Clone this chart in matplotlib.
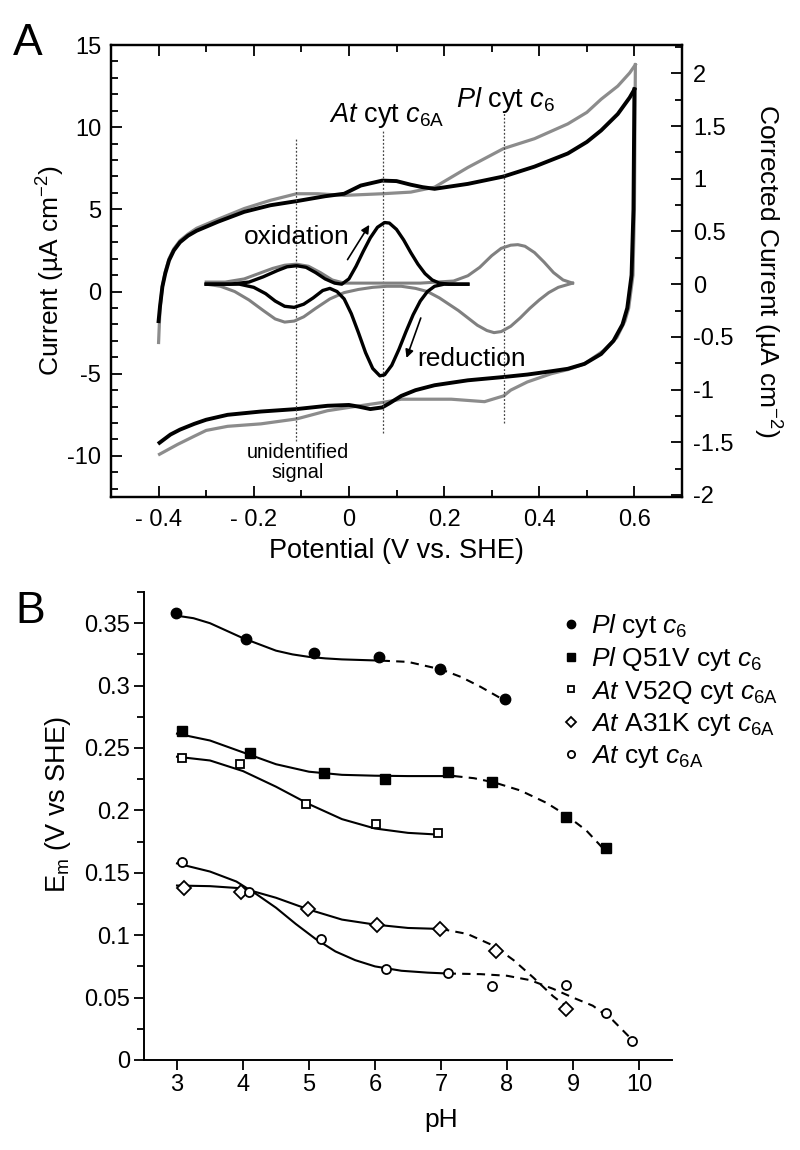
import matplotlib
matplotlib.use('Agg')
import matplotlib.pyplot as plt
from matplotlib.ticker import MultipleLocator, FuncFormatter

plt.rcParams['font.family'] = ['Liberation Sans', 'DejaVu Sans']
plt.rcParams['mathtext.fontset'] = 'custom'
plt.rcParams['mathtext.rm'] = 'Liberation Sans'
plt.rcParams['mathtext.it'] = 'Liberation Sans:italic'
plt.rcParams['mathtext.bf'] = 'Liberation Sans:bold'
plt.rcParams['axes.unicode_minus'] = False

# ---------------- panel A : cyclic voltammograms (left axis, uA cm-2) ----------------
# black = At cyt c6A, gray = Pl cyt c6 ; "up" = oxidative sweep, "dn" = reductive sweep
cv_black_up_v = [-0.400, -0.397, -0.392, -0.386, -0.378, -0.368, -0.355, -0.338, -0.320, -0.275,
                 -0.220, -0.165, -0.110, -0.050, -0.010, 0.025, 0.070, 0.100, 0.130, 0.155,
                 0.180, 0.250, 0.325, 0.390, 0.460, 0.500, 0.530, 0.565, 0.590, 0.600]
cv_black_up_i = [-1.8, -0.9, 0.3, 1.1, 1.9, 2.5, 3.0, 3.4, 3.7, 4.25,
                 4.85, 5.25, 5.5, 5.8, 5.95, 6.45, 6.75, 6.72, 6.5, 6.35,
                 6.25, 6.55, 7.0, 7.6, 8.4, 9.1, 9.8, 10.8, 11.8, 12.3]
cv_black_dn_v = [0.600, 0.598, 0.594, 0.585, 0.575, 0.556, 0.530, 0.495, 0.460, 0.425,
                 0.375, 0.325, 0.250, 0.180, 0.140, 0.110, 0.085, 0.070, 0.045, 0.020,
                 0.000, -0.045, -0.110, -0.185, -0.255, -0.300, -0.325, -0.355, -0.375, -0.398]
cv_black_dn_i = [12.3, 5.0, 1.0, -1.0, -2.0, -3.0, -3.8, -4.4, -4.7, -4.85,
                 -5.05, -5.2, -5.4, -5.7, -6.0, -6.35, -6.8, -7.05, -7.15, -7.0,
                 -6.9, -6.95, -7.15, -7.3, -7.5, -7.8, -8.05, -8.4, -8.7, -9.2]
cv_gray_up_v = [-0.400, -0.397, -0.392, -0.386, -0.378, -0.368, -0.355, -0.338, -0.320, -0.275,
                -0.220, -0.165, -0.110, -0.065, -0.010, 0.070, 0.130, 0.180, 0.250, 0.325,
                0.390, 0.460, 0.500, 0.530, 0.565, 0.590, 0.602]
cv_gray_up_i = [-3.1, -1.0, 0.3, 1.2, 2.0, 2.6, 3.1, 3.5, 3.85, 4.4,
                5.05, 5.55, 5.95, 5.95, 5.85, 5.95, 6.05, 6.35, 7.55, 8.7,
                9.3, 10.2, 10.9, 11.7, 12.5, 13.3, 13.8]
cv_gray_dn_v = [0.602, 0.600, 0.597, 0.588, 0.580, 0.563, 0.535, 0.495, 0.460, 0.425,
                0.375, 0.340, 0.325, 0.285, 0.215, 0.110, 0.070, 0.000, -0.045, -0.110,
                -0.185, -0.255, -0.300, -0.325, -0.360, -0.398]
cv_gray_dn_i = [13.8, 5.0, 1.0, -1.0, -1.8, -2.8, -3.6, -4.4, -4.75, -5.0,
                -5.5, -6.0, -6.35, -6.7, -6.55, -6.55, -6.75, -7.05, -7.25, -7.75,
                -8.05, -8.2, -8.45, -8.8, -9.3, -9.9]

# baseline-corrected signals (right axis)
cor_black_up_v = [-0.300, -0.250, -0.210, -0.180, -0.150, -0.130, -0.110, -0.090, -0.070, -0.050,
                  -0.030, -0.015, 0.000, 0.015, 0.030, 0.045, 0.060, 0.075, 0.085, 0.100,
                  0.115, 0.130, 0.145, 0.160, 0.175, 0.190, 0.210, 0.250]
cor_black_up_c = [0.0, 0.0, 0.02, 0.07, 0.13, 0.165, 0.175, 0.16, 0.11, 0.05,
                  0.01, 0.0, 0.05, 0.17, 0.31, 0.44, 0.54, 0.585, 0.58, 0.52,
                  0.42, 0.30, 0.19, 0.10, 0.04, 0.01, 0.0, 0.0]
cor_black_dn_v = [0.250, 0.200, 0.180, 0.165, 0.150, 0.135, 0.120, 0.105, 0.090, 0.075,
                  0.065, 0.050, 0.035, 0.020, 0.005, -0.010, -0.025, -0.040, -0.055, -0.075,
                  -0.095, -0.115, -0.135, -0.155, -0.175, -0.200, -0.230, -0.260, -0.300]
cor_black_dn_c = [0.0, 0.0, -0.02, -0.07, -0.16, -0.29, -0.45, -0.62, -0.77, -0.86,
                  -0.87, -0.80, -0.65, -0.46, -0.28, -0.14, -0.07, -0.04, -0.06, -0.13,
                  -0.19, -0.22, -0.21, -0.16, -0.09, -0.03, 0.0, 0.0, 0.0]
cor_gray_up_v = [-0.300, -0.260, -0.220, -0.190, -0.160, -0.135, -0.110, -0.085, -0.060, -0.035,
                 -0.010, 0.050, 0.150, 0.220, 0.250, 0.275, 0.300, 0.320, 0.340, 0.355,
                 0.370, 0.390, 0.410, 0.430, 0.450, 0.470]
cor_gray_up_c = [0.02, 0.02, 0.05, 0.10, 0.15, 0.18, 0.19, 0.17, 0.11, 0.04,
                 0.01, 0.01, 0.01, 0.03, 0.08, 0.16, 0.27, 0.34, 0.37, 0.375,
                 0.36, 0.30, 0.21, 0.11, 0.04, 0.01]
cor_gray_dn_v = [0.470, 0.440, 0.420, 0.400, 0.380, 0.360, 0.340, 0.320, 0.305, 0.290,
                 0.270, 0.250, 0.230, 0.210, 0.190, 0.165, 0.140, 0.110, 0.080, 0.050,
                 0.020, -0.010, -0.040, -0.070, -0.095, -0.115, -0.135, -0.155, -0.180, -0.210,
                 -0.240, -0.270, -0.300]
cor_gray_dn_c = [0.01, -0.03, -0.08, -0.15, -0.23, -0.32, -0.40, -0.45, -0.46, -0.44,
                 -0.39, -0.32, -0.25, -0.19, -0.13, -0.07, -0.04, -0.02, -0.02, -0.03,
                 -0.05, -0.08, -0.14, -0.23, -0.31, -0.35, -0.36, -0.33, -0.25, -0.15,
                 -0.07, -0.02, 0.0]

# dotted marker lines (potential, top, bottom in left-axis units)
mark_v = [-0.111, 0.071, 0.325]
mark_top = [9.3, 9.8, 10.9]
mark_bot = [-9.1, -8.6, -8.0]

# ---------------- panel B : Em vs pH ----------------
pl_ph = [2.98, 4.05, 5.07, 6.06, 6.98, 7.97]
pl_em = [0.358, 0.337, 0.326, 0.323, 0.313, 0.289]
q51v_ph = [3.08, 4.11, 5.23, 6.15, 7.10, 7.78, 8.90, 9.50]
q51v_em = [0.264, 0.246, 0.230, 0.225, 0.231, 0.223, 0.195, 0.170]
v52q_ph = [3.08, 3.96, 4.96, 6.01, 6.96]
v52q_em = [0.242, 0.237, 0.205, 0.189, 0.182]
a31k_ph = [3.10, 3.97, 4.99, 6.03, 6.98, 7.84, 8.90]
a31k_em = [0.138, 0.135, 0.121, 0.108, 0.105, 0.087, 0.041]
at_ph = [3.07, 4.09, 5.18, 6.16, 7.10, 7.78, 8.90, 9.50, 9.90]
at_em = [0.159, 0.135, 0.097, 0.073, 0.070, 0.059, 0.060, 0.038, 0.015]

# fitted curves: solid part and dashed extension
pl_fit_ph = [3.0, 3.25, 3.5, 3.75, 4.0, 4.25, 4.5, 4.75, 5.0, 5.25, 5.5, 5.8, 6.1]
pl_fit_em = [0.356, 0.354, 0.350, 0.344, 0.338, 0.333, 0.328, 0.325, 0.323, 0.3218, 0.321, 0.3205, 0.320]
pl_ext_ph = [6.1, 6.5, 7.0, 7.3, 7.6, 8.0]
pl_ext_em = [0.320, 0.319, 0.313, 0.307, 0.299, 0.287]
q51v_fit_ph = [3.0, 3.5, 4.0, 4.5, 5.0, 5.5, 6.0, 6.5, 7.2]
q51v_fit_em = [0.2615, 0.256, 0.2465, 0.237, 0.231, 0.2285, 0.2278, 0.2275, 0.2275]
q51v_ext_ph = [7.2, 7.5, 7.8, 8.2, 8.6, 8.9, 9.2, 9.5]
q51v_ext_em = [0.2275, 0.2258, 0.2225, 0.216, 0.206, 0.196, 0.184, 0.167]
v52q_fit_ph = [3.0, 3.5, 4.0, 4.5, 5.0, 5.5, 6.0, 6.5, 7.0]
v52q_fit_em = [0.243, 0.240, 0.2315, 0.219, 0.205, 0.193, 0.1855, 0.182, 0.1805]
a31k_fit_ph = [3.0, 3.5, 4.0, 4.5, 5.0, 5.5, 6.0, 6.5, 7.0]
a31k_fit_em = [0.1398, 0.1393, 0.1375, 0.130, 0.1205, 0.1125, 0.1085, 0.1058, 0.105]
a31k_ext_ph = [7.0, 7.4, 7.8, 8.1, 8.4, 8.7, 8.95]
a31k_ext_em = [0.105, 0.101, 0.0915, 0.080, 0.066, 0.051, 0.041]
at_fit_ph = [3.0, 3.5, 3.9, 4.2, 4.5, 4.8, 5.1, 5.4, 5.7, 6.0, 6.4, 6.8, 7.1]
at_fit_em = [0.1575, 0.151, 0.143, 0.133, 0.122, 0.109, 0.097, 0.087, 0.080, 0.075, 0.0715, 0.070, 0.0693]
at_ext_ph = [7.1, 7.6, 8.0, 8.35, 8.7, 9.0, 9.3, 9.6, 9.9]
at_ext_em = [0.0693, 0.0688, 0.0675, 0.064, 0.057, 0.050, 0.0435, 0.032, 0.016]


def fmt_g(val, pos):
    return '%g' % round(val, 3)


def fmt_pot(val, pos):
    # potential labels are written "- 0.4" in the original
    val = round(val, 3)
    if val < 0:
        return '- %g' % abs(val)
    return '%g' % val


fig = plt.figure(figsize=(8, 11.5), dpi=100)

# ---------- A ----------
ax_a = fig.add_axes([111 / 800, 1 - 497 / 1150, 571 / 800, 452 / 1150])
gray = '#8c8c8c'
ax_a.plot(cv_gray_up_v, cv_gray_up_i, color=gray, lw=2.3)
ax_a.plot(cv_gray_dn_v, cv_gray_dn_i, color=gray, lw=2.3)
ax_a.plot(cv_black_up_v, cv_black_up_i, color='black', lw=2.8)
ax_a.plot(cv_black_dn_v, cv_black_dn_i, color='black', lw=2.8)
for v, top, bot in zip(mark_v, mark_top, mark_bot):
    ax_a.plot([v, v], [bot, top], color='#444444', lw=0.9, ls=(0, (1.5, 1.5)))

ax_a.set_xlim(-0.5, 0.7)
ax_a.set_ylim(-12.5, 15)
ax_a.xaxis.set_major_locator(MultipleLocator(0.2))
ax_a.xaxis.set_minor_locator(MultipleLocator(0.1))
ax_a.yaxis.set_major_locator(MultipleLocator(5))
ax_a.yaxis.set_minor_locator(MultipleLocator(1))
ax_a.xaxis.set_major_formatter(FuncFormatter(fmt_pot))
ax_a.tick_params(which='both', direction='in', top=True, width=1.3, labelsize=17)
ax_a.tick_params(which='major', length=8, pad=7)
ax_a.tick_params(which='minor', length=5)
ax_a.tick_params(axis='x', which='major', pad=9)
for s in ax_a.spines.values():
    s.set_linewidth(1.6)
ax_a.set_xlabel('Potential (V vs. SHE)', fontsize=19.5, labelpad=5)
ax_a.set_ylabel('Current (µA cm$^{-2}$)', fontsize=19, labelpad=0)

ax_a.text(0.08, 10.3, r'$\mathit{At}$ cyt $\mathit{c}_{\rm 6A}$', ha='center', va='baseline', fontsize=19.5)
ax_a.text(0.33, 11.2, r'$\mathit{Pl}$ cyt $\mathit{c}_{\rm 6}$', ha='center', va='baseline', fontsize=19.5)
ax_a.text(-0.11, 2.9, 'oxidation', ha='center', va='baseline', fontsize=19)
ax_a.text(0.258, -4.5, 'reduction', ha='center', va='baseline', fontsize=19)
ax_a.text(-0.107, -9.2, 'unidentified\nsignal', ha='center', va='top', fontsize=14.3, linespacing=1.1)
ax_a.annotate('', xy=(0.046, 4.2), xytext=(-0.006, 1.8),
              arrowprops=dict(arrowstyle='-|>', color='black', lw=1.2, mutation_scale=12))
ax_a.annotate('', xy=(0.119, -4.2), xytext=(0.153, -1.45),
              arrowprops=dict(arrowstyle='-|>', color='black', lw=1.2, mutation_scale=12))

ax_r = ax_a.twinx()
ax_r.plot(cor_gray_up_v, cor_gray_up_c, color='#808080', lw=2.2)
ax_r.plot(cor_gray_dn_v, cor_gray_dn_c, color='#808080', lw=2.2)
ax_r.plot(cor_black_up_v, cor_black_up_c, color='black', lw=2.4)
ax_r.plot(cor_black_dn_v, cor_black_dn_c, color='black', lw=2.4)
ax_r.set_ylim(-2.02, 2.27)
ax_r.yaxis.set_major_locator(MultipleLocator(0.5))
ax_r.yaxis.set_minor_locator(MultipleLocator(0.25))
ax_r.yaxis.set_major_formatter(FuncFormatter(fmt_g))
ax_r.tick_params(which='both', direction='in', width=1.3, labelsize=17)
ax_r.tick_params(which='major', length=8, pad=8)
ax_r.tick_params(which='minor', length=5)
for s in ax_r.spines.values():
    s.set_linewidth(1.6)
ax_r.set_ylabel('Corrected Current (µA cm$^{-2}$)', fontsize=19, rotation=270, labelpad=36)

fig.text(13 / 800, 1 - 55 / 1150, 'A', fontsize=32, ha='left', va='baseline')

# ---------- B ----------
ax_b = fig.add_axes([144 / 800, 1 - 1060 / 1150, 528 / 800, 468 / 1150])
ax_b.spines['top'].set_visible(False)
ax_b.spines['right'].set_visible(False)
for s in ['left', 'bottom']:
    ax_b.spines[s].set_linewidth(1.4)

fit_kw = dict(color='black', lw=1.5)
ext_kw = dict(color='black', lw=1.5, ls=(0, (4, 3)))
ax_b.plot(pl_fit_ph, pl_fit_em, **fit_kw)
ax_b.plot(pl_ext_ph, pl_ext_em, **ext_kw)
ax_b.plot(q51v_fit_ph, q51v_fit_em, **fit_kw)
ax_b.plot(q51v_ext_ph, q51v_ext_em, **ext_kw)
ax_b.plot(v52q_fit_ph, v52q_fit_em, **fit_kw)
ax_b.plot(a31k_fit_ph, a31k_fit_em, **fit_kw)
ax_b.plot(a31k_ext_ph, a31k_ext_em, **ext_kw)
ax_b.plot(at_fit_ph, at_fit_em, **fit_kw)
ax_b.plot(at_ext_ph, at_ext_em, **ext_kw)

ax_b.plot(pl_ph, pl_em, 'o', ms=7.5, mfc='black', mec='black', ls='none', zorder=5,
          label=r'$\mathit{Pl}$ cyt $\mathit{c}_{\rm 6}$')
ax_b.plot(q51v_ph, q51v_em, 's', ms=6.5, mfc='black', mec='black', ls='none', zorder=5,
          label=r'$\mathit{Pl}$ Q51V cyt $\mathit{c}_{\rm 6}$')
ax_b.plot(v52q_ph, v52q_em, 's', ms=6, mfc='white', mec='black', mew=1.3, ls='none', zorder=5,
          label=r'$\mathit{At}$ V52Q cyt $\mathit{c}_{\rm 6A}$')
ax_b.plot(a31k_ph, a31k_em, 'D', ms=7, mfc='white', mec='black', mew=1.3, ls='none', zorder=5,
          label=r'$\mathit{At}$ A31K cyt $\mathit{c}_{\rm 6A}$')
ax_b.plot(at_ph, at_em, 'o', ms=6.5, mfc='white', mec='black', mew=1.3, ls='none', zorder=5,
          label=r'$\mathit{At}$ cyt $\mathit{c}_{\rm 6A}$')

ax_b.set_xlim(2.5, 10.5)
ax_b.set_ylim(0, 0.375)
ax_b.xaxis.set_major_locator(MultipleLocator(1))
ax_b.yaxis.set_major_locator(MultipleLocator(0.05))
ax_b.yaxis.set_minor_locator(MultipleLocator(0.025))
ax_b.yaxis.set_major_formatter(FuncFormatter(fmt_g))
ax_b.tick_params(which='both', direction='out', width=1.3, labelsize=17, pad=3)
ax_b.tick_params(which='major', length=7)
ax_b.tick_params(which='minor', length=5)
ax_b.set_xlabel('pH', fontsize=19, labelpad=9)
ax_b.xaxis.label.set_x((7 - 2.5) / 8)
ax_b.set_ylabel(r'E$_{\rm m}$ (V vs SHE)', fontsize=19.5, labelpad=8)
ax_b.yaxis.label.set_y(0.545)

ax_b.legend(loc='upper left', bbox_to_anchor=(558 / 800, 1 - 612 / 1150), bbox_transform=fig.transFigure,
            frameon=False, fontsize=19, markerscale=0.8, handlelength=1.0, handletextpad=0.25,
            labelspacing=0.2, borderpad=0, borderaxespad=0)

fig.text(15 / 800, 1 - 623 / 1150, 'B', fontsize=32, ha='left', va='baseline')

fig.savefig('out.png', dpi=100)
